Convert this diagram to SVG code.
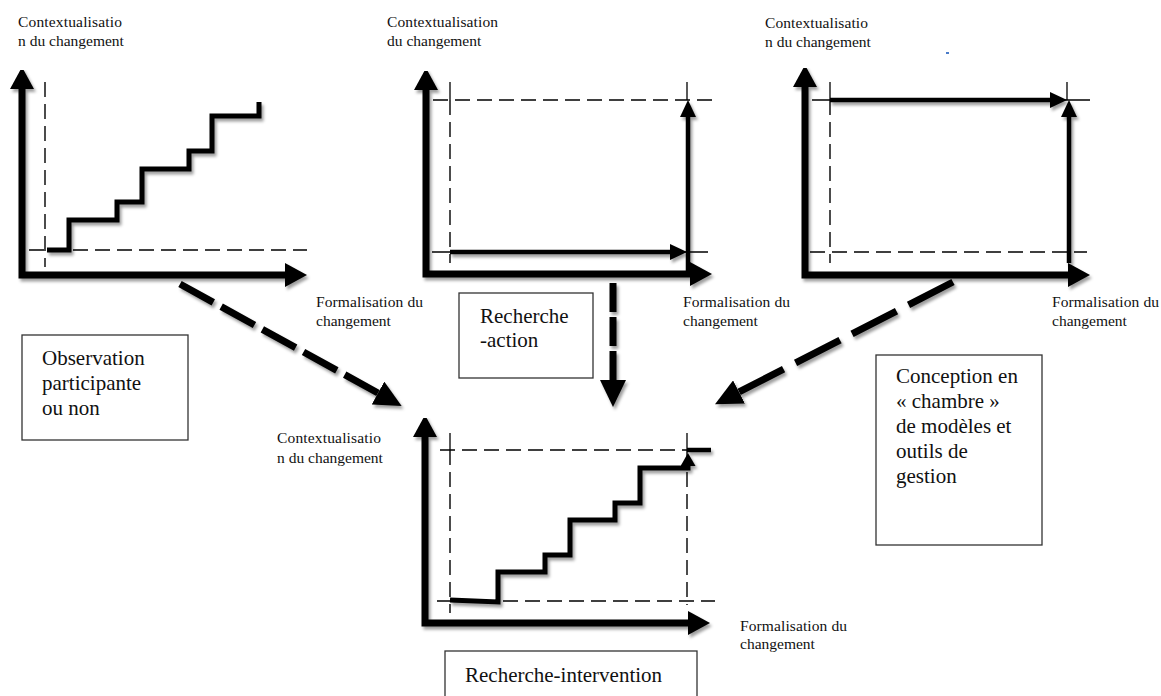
<svg xmlns="http://www.w3.org/2000/svg" width="1161" height="696" viewBox="0 0 1161 696">
  <style>
    .lbl { font-family: "Liberation Serif", "Times New Roman", serif; font-size: 15.5px; fill: #111; }
    .big { font-family: "Liberation Serif", "Times New Roman", serif; font-size: 21px; fill: #111; }
    .axis { fill: none; stroke: #000; stroke-width: 7; stroke-linejoin: miter; marker-start: url(#axisHead); marker-end: url(#axisHead); }
    .thin { fill: none; stroke: #000; stroke-width: 1.3; }
    .dash { fill: none; stroke: #000; stroke-width: 1.4; stroke-dasharray: 15 7; }
    .arrow { fill: none; stroke: #000; stroke-width: 4.5; marker-end: url(#innerHead); }
    .stair { fill: none; stroke: #000; stroke-width: 5; stroke-linejoin: miter; }
    .box { fill: #fff; stroke: #333; stroke-width: 1.3; }
    .flow { fill: none; stroke: #000; stroke-width: 7; marker-end: url(#flowHead); }
    .shadow { filter: url(#soft); }
  </style>
  <defs>
    <filter id="soft" x="-10%" y="-10%" width="130%" height="130%">
      <feDropShadow dx="2" dy="3" stdDeviation="1.8" flood-color="#000" flood-opacity="0.38"/>
    </filter>
    <marker id="axisHead" viewBox="0 0 22 24" refX="0" refY="12" markerWidth="22" markerHeight="24" markerUnits="userSpaceOnUse" orient="auto-start-reverse">
      <path d="M0 0 L22 12 L0 24 Z" fill="#000"/>
    </marker>
    <marker id="innerHead" viewBox="0 0 17 16" refX="0" refY="8" markerWidth="17" markerHeight="16" markerUnits="userSpaceOnUse" orient="auto">
      <path d="M0 0 L17 8 L0 16 Z" fill="#000"/>
    </marker>
    <marker id="smallHead" viewBox="0 0 13 15" refX="0" refY="7.5" markerWidth="13" markerHeight="15" markerUnits="userSpaceOnUse" orient="auto">
      <path d="M0 0 L13 7.5 L0 15 Z" fill="#000"/>
    </marker>
    <marker id="flowHead" viewBox="0 0 27 26" refX="0" refY="13" markerWidth="27" markerHeight="26" markerUnits="userSpaceOnUse" orient="auto">
      <path d="M0 0 L27 13 L0 26 Z" fill="#000"/>
    </marker>
  </defs>

  <rect width="1161" height="696" fill="#fff"/>

  <!-- Observation: stepwise path, formalisation grows gradually -->
  <g id="panel-observation">
    <text class="lbl" x="18" y="27" textLength="104" lengthAdjust="spacing">Contextualisatio</text>
    <text class="lbl" x="18" y="46">n du changement</text>
    <line class="dash" x1="45" y1="82" x2="45" y2="267"/>
    <line class="dash" x1="29" y1="250" x2="307" y2="250"/>
    <g class="shadow">
      <path class="axis" d="M22 89 V275 H285"/>
      <path class="stair" d="M47 250 H69 V220 H117 V202 H142 V169 H189 V151 H212 V116 H259 V102"/>
    </g>
    <text class="lbl" x="316" y="307" textLength="107" lengthAdjust="spacing">Formalisation du</text>
    <text class="lbl" x="316" y="326">changement</text>
  </g>

  <!-- Recherche-action: formalisation first, then context -->
  <g id="panel-action">
    <text class="lbl" x="387" y="27" textLength="111" lengthAdjust="spacing">Contextualisation</text>
    <text class="lbl" x="387" y="46">du changement</text>
    <line class="thin" x1="450" y1="82" x2="450" y2="100"/>
    <line class="dash" x1="450" y1="100" x2="450" y2="263"/>
    <line class="dash" x1="433" y1="100" x2="712" y2="100"/>
    <line class="thin" x1="432" y1="252" x2="708" y2="252"/>
    <line class="thin" x1="687" y1="82" x2="687" y2="100"/>
    <g class="shadow">
      <path class="axis" d="M426 90 V274 H690"/>
      <path class="arrow" d="M450 252 H670"/>
      <path class="arrow" d="M688 273 V117"/>
    </g>
    <text class="lbl" x="683" y="307" textLength="107" lengthAdjust="spacing">Formalisation du</text>
    <text class="lbl" x="683" y="326">changement</text>
  </g>

  <!-- Conception en chambre: context first, then formalisation -->
  <g id="panel-conception">
    <text class="lbl" x="765" y="28" textLength="103" lengthAdjust="spacing">Contextualisatio</text>
    <text class="lbl" x="765" y="47">n du changement</text>
    <rect x="946" y="52" width="3" height="2" fill="#4a7cc9"/>
    <line class="thin" x1="812" y1="100" x2="1090" y2="100"/>
    <line class="thin" x1="830" y1="82" x2="830" y2="100"/>
    <line class="dash" x1="830" y1="100" x2="830" y2="263"/>
    <line class="thin" x1="1067" y1="82" x2="1067" y2="100"/>
    <line class="dash" x1="810" y1="252" x2="1087" y2="252"/>
    <g class="shadow">
      <path class="axis" d="M805 87 V275 H1068"/>
      <path class="arrow" d="M830 100 H1050"/>
      <path class="arrow" d="M1069 263 V117"/>
    </g>
    <text class="lbl" x="1052" y="307" textLength="107" lengthAdjust="spacing">Formalisation du</text>
    <text class="lbl" x="1052" y="326">changement</text>
  </g>

  <!-- Recherche-intervention: stepwise path inside the frame -->
  <g id="panel-intervention">
    <text class="lbl" x="277" y="443" textLength="104" lengthAdjust="spacing">Contextualisatio</text>
    <text class="lbl" x="277" y="463">n du changement</text>
    <line class="dash" x1="440" y1="450" x2="687" y2="450"/>
    <line class="thin" x1="450" y1="433" x2="450" y2="450"/>
    <line class="dash" x1="450" y1="450" x2="450" y2="613"/>
    <line class="thin" x1="687" y1="433" x2="687" y2="450"/>
    <line class="dash" x1="687" y1="450" x2="687" y2="605"/>
    <line class="dash" x1="437" y1="601" x2="715" y2="601"/>
    <g class="shadow">
      <path class="axis" d="M425 437 V623 H688"/>
      <line x1="687" y1="450" x2="711" y2="450" stroke="#000" stroke-width="4.5"/>
      <path class="stair" d="M450 600 L498 602 V572 H545 V555 H570 V520 H615 V503 H640 V468 H688 V466" marker-end="url(#smallHead)"/>
    </g>
    <text class="lbl" x="740" y="631" textLength="107" lengthAdjust="spacing">Formalisation du</text>
    <text class="lbl" x="740" y="649">changement</text>
  </g>

  <!-- Caption boxes -->
  <g id="box-observation">
    <rect class="box" x="22" y="335" width="166" height="105"/>
    <text class="big" x="42" y="365">Observation</text>
    <text class="big" x="42" y="390">participante</text>
    <text class="big" x="42" y="415">ou non</text>
  </g>
  <g id="box-action">
    <rect class="box" x="459" y="293" width="134" height="85"/>
    <text class="big" x="480" y="323">Recherche</text>
    <text class="big" x="480" y="347">-action</text>
  </g>
  <g id="box-conception">
    <rect class="box" x="876" y="355" width="166" height="190"/>
    <text class="big" x="896" y="383">Conception en</text>
    <text class="big" x="896" y="408">« chambre »</text>
    <text class="big" x="896" y="433">de modèles et</text>
    <text class="big" x="896" y="458">outils de</text>
    <text class="big" x="896" y="483">gestion</text>
  </g>
  <g id="box-intervention">
    <rect class="box" x="445" y="651" width="252" height="60"/>
    <text class="big" x="465" y="682">Recherche-intervention</text>
  </g>

  <!-- Dashed flows converging on the intervention panel -->
  <g id="connectors" class="shadow">
    <path class="flow" d="M180 284 L378 393" stroke-dasharray="38 9"/>
    <path class="flow" d="M613 283 V380" stroke-dasharray="29 5"/>
    <path class="flow" d="M953 282 L739 392" stroke-dasharray="50 13.5"/>
  </g>
</svg>
